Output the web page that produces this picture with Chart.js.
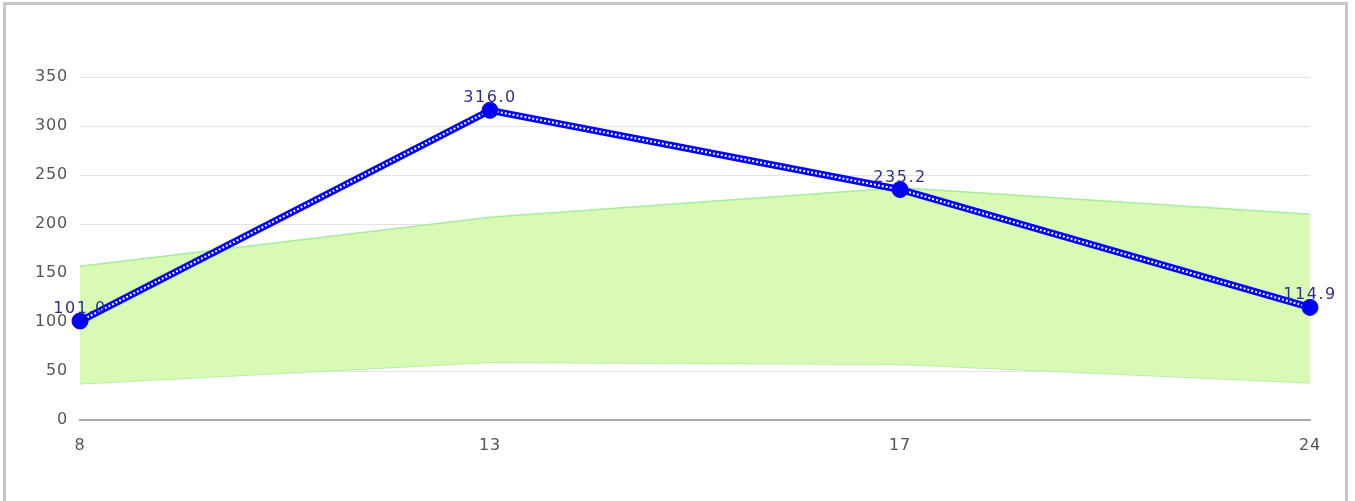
<!DOCTYPE html>
<html>
<head>
<meta charset="utf-8">
<script src="https://cdn.jsdelivr.net/npm/chart.js@4/dist/chart.umd.min.js"></script>
<style>
    body { margin: 0; background: #fff; }
    #box {
        position: absolute; left: 3px; top: 2px;
        width: 1339px; height: 510px;
        border: 3px solid #c8c8c8;
    }
</style>
</head>
<body>
<div id="box"><canvas id="chart"></canvas></div>
<script>
// categories and values
const categories = ["8", "13", "17", "24"];
const lineValues = [101.0, 316.0, 235.2, 114.9];
const bandUpper = [157, 207, 237, 210];
const bandLower = [37, 59, 57, 38];
const yTicks = [0, 50, 100, 150, 200, 250, 300, 350];

// the reference text is a bit spaced out
const spacing = {
    id: "spacing",
    beforeDraw(chart) { chart.ctx.letterSpacing = "0.8px"; }
};

// value labels above the points
const valueLabels = {
    id: "valueLabels",
    afterDatasetsDraw(chart) {
        const ctx = chart.ctx;
        const meta = chart.getDatasetMeta(4);
        ctx.save();
        ctx.letterSpacing = "1.5px";
        ctx.font = "16px 'DejaVu Sans', sans-serif";
        ctx.fillStyle = "#2e2e8a";
        ctx.textAlign = "center";
        ctx.textBaseline = "alphabetic";
        meta.data.forEach((pt, i) => {
            ctx.fillText(lineValues[i].toFixed(1), pt.x, pt.y - 8);
        });
        ctx.restore();
    }
};

const ctx = document.getElementById("chart").getContext("2d");
new Chart(ctx, {
    type: "line",
    data: {
        labels: categories,
        datasets: [
            {
                data: bandUpper,
                borderColor: "#a6ee9c",
                borderWidth: 1.5,
                backgroundColor: "rgba(216, 250, 180, 1)",
                fill: "+1",
                pointRadius: 0,
                tension: 0,
                order: 5
            },
            {
                data: bandLower,
                borderColor: "#a6ee9c",
                borderWidth: 1.5,
                fill: false,
                pointRadius: 0,
                tension: 0,
                order: 5
            },
            {
                data: lineValues,
                borderColor: "#0000ff",
                borderWidth: 7,
                fill: false,
                pointRadius: 0,
                tension: 0,
                order: 3
            },
            {
                // white zigzag inside the blue line
                data: lineValues,
                borderColor: "#ffffff",
                borderWidth: 2,
                borderDash: [2, 2],
                fill: false,
                pointRadius: 0,
                tension: 0,
                order: 2
            },
            {
                data: lineValues,
                showLine: false,
                pointRadius: 8,
                pointBackgroundColor: "#0000ff",
                pointBorderColor: "#0000ff",
                pointBorderWidth: 1,
                order: 1
            }
        ]
    },
    options: {
        responsive: true,
        maintainAspectRatio: false,
        animation: false,
        layout: { padding: { top: 72, right: 35, bottom: 55, left: 0 } },
        plugins: {
            legend: { display: false },
            tooltip: { enabled: false }
        },
        scales: {
            x: {
                offset: false,
                grid: { display: false },
                border: { color: "#aaaaaa", width: 2 },
                ticks: { color: "#555555", font: { family: "'DejaVu Sans', sans-serif", size: 16 }, padding: 8, maxRotation: 0 },
                afterFit(scale) { scale.height = 40; }
            },
            y: {
                min: 0,
                max: 350,
                afterBuildTicks(scale) { scale.ticks = yTicks.map(v => ({ value: v })); },
                grid: { color: "#e3e3e3", drawTicks: false },
                border: { display: false },
                ticks: { color: "#555555", font: { family: "'DejaVu Sans', sans-serif", size: 16 }, padding: 12 },
                afterFit(scale) { scale.width = 74; }
            }
        }
    },
    plugins: [spacing, valueLabels]
});
</script>
</body>
</html>
